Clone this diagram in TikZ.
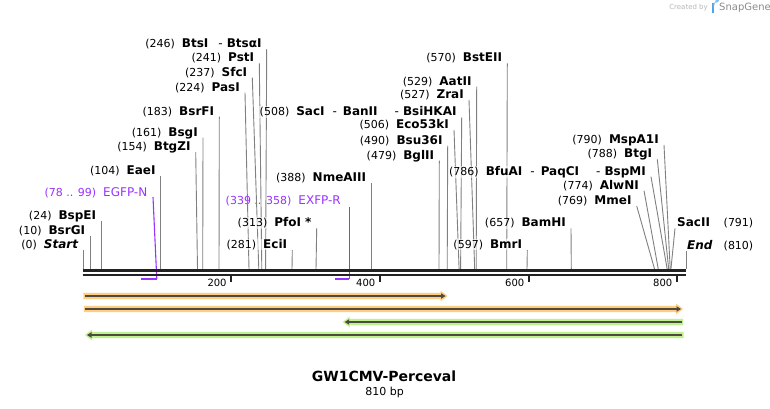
\documentclass[tikz,border=0pt]{standalone}
\usepackage{fontspec}
\setmainfont{DejaVu Sans}
\definecolor{cutgray}{RGB}{128,128,128}
\definecolor{primer}{RGB}{153,51,255}
\definecolor{orangef}{RGB}{255,205,128}
\definecolor{greenf}{RGB}{190,242,140}
\definecolor{featdark}{RGB}{78,74,66}
\definecolor{rulerc}{RGB}{34,34,34}
\definecolor{sgblue}{RGB}{80,165,230}
\newcommand\numf{\fontsize{11}{13}\selectfont}
\newcommand\namef{\fontsize{12}{14}\selectfont\bfseries}
\newcommand\esep{{\mdseries\hspace{10pt}-\hspace{4pt}}}
\newcommand\esepa{{\mdseries\hspace{8pt}-\hspace{6pt}}}
\newcommand\esepb{{\mdseries\hspace{17pt}-\hspace{4pt}}}
\tikzset{
  lab/.style={inner sep=0.5pt, fill=white, fill opacity=0.55, text opacity=1},
  cut/.style={draw=cutgray, line width=0.9pt},
  primline/.style={draw=primer, line width=1.1pt},
  primbar/.style={draw=primer, line width=1.8pt},
  rulerline/.style={draw=rulerc, line width=2.2pt},
  tickmark/.style={draw=rulerc, line width=1.8pt},
  ticklab/.style={font=\fontsize{10}{12}\selectfont, inner sep=0pt, anchor=east},
  featline/.style={draw=featdark, line width=2pt},
}
% #1 id, #2 top x, #3 top y, #4 bottom x, #5 position, #6 names
\newcommand\enz[6]{%
  \coordinate (#1-t) at (#2,#3);
  \coordinate (#1-b) at (#4,269.2);
  \draw[cut] (#1-t) -- (#1-b);
  \node[lab, anchor=base east] (#1) at ({#2-4.5},{#3-1.5}) {{\numf(#5)}\hspace{7pt}{\namef #6}};
}
% right-pointing feature: #1 y, #2 x start, #3 x tip, #4 colour
\newcommand\featR[4]{%
  \fill[#4] (#2,{#1-3.2}) -- ({#3-7},{#1-3.2}) -- ({#3-7},{#1-5.4}) -- (#3,#1) -- ({#3-7},{#1+5.4}) -- ({#3-7},{#1+3.2}) -- (#2,{#1+3.2}) -- cycle;
  \draw[featline] ({#2+1.5},#1) -- ({#3-5},#1);
  \fill[featdark] ({#3-6.5},{#1-2.8}) -- ({#3-2},#1) -- ({#3-6.5},{#1+2.8}) -- cycle;
}
% left-pointing feature: #1 y, #2 x tip, #3 x end, #4 colour
\newcommand\featL[4]{%
  \fill[#4] (#3,{#1-3.2}) -- ({#2+7},{#1-3.2}) -- ({#2+7},{#1-5.4}) -- (#2,#1) -- ({#2+7},{#1+5.4}) -- ({#2+7},{#1+3.2}) -- (#3,{#1+3.2}) -- cycle;
  \draw[featline] ({#3-1.5},#1) -- ({#2+5},#1);
  \fill[featdark] ({#2+6.5},{#1-2.8}) -- ({#2+2},#1) -- ({#2+6.5},{#1+2.8}) -- cycle;
}
\begin{document}
\begin{tikzpicture}[x=1pt,y=-1pt]
\useasboundingbox (0,0) rectangle (770,408);
\fill[white] (0,0) rectangle (770,408);

% watermark
\node[font=\fontsize{7}{8}\selectfont, text=black!28, anchor=east, inner sep=0pt] (wmcreated) at (708,7.5) {Created by};
\fill[sgblue] (711.5,2.5) rectangle (713.6,13);
\fill[sgblue!70] (713.6,2.5) -- (716.5,2.5) arc[start angle=90,end angle=-90,radius=2.6] -- (713.6,7.7) -- cycle;
\node[font=\fontsize{10}{12}\selectfont, text=black!45, anchor=west, inner sep=0pt] (wmsg) at (719,7.8) {SnapGene};

% primers
\coordinate (p1t) at (153,197);
\coordinate (p1m) at (156.8,279);
\coordinate (p1e) at (141,279);
\draw[primline] (p1t) -- (p1m);
\draw[primbar] (p1m) -- (p1e);
\node[anchor=base east, inner sep=0pt, text=primer] (egfpn) at (147.5,196.5) {{\numf(78 .. 99)}\hspace{7pt}{\fontsize{12}{14}\selectfont EGFP-N}};
\coordinate (p2t) at (349.3,206.7);
\coordinate (p2m) at (349.3,279);
\coordinate (p2e) at (335,279);
\draw[primline] (p2t) -- (p2m);
\draw[primbar] (p2m) -- (p2e);
\node[anchor=base east, inner sep=0pt, text=primer] (exfpr) at (341,204.5) {{\numf(339 .. 358)}\hspace{7pt}{\fontsize{12}{14}\selectfont EXFP-R}};

% enzymes
\enz{eStart}{83.3}{250}{83.3}{0}{\itshape Start}
\enz{eBsrGI}{90.3}{236}{90.3}{10}{BsrGI}
\enz{eBspEI}{101.3}{221}{101.3}{24}{BspEI}
\enz{eEaeI}{160.7}{176}{160.7}{104}{EaeI}
\enz{eBtgZI}{195.7}{152}{197.5}{154}{BtgZI}
\enz{eBsgI}{203}{137.7}{202.7}{161}{BsgI}
\enz{eBsrFI}{219.3}{116.7}{219}{183}{BsrFI}
\enz{ePasI}{245}{92.7}{249}{224}{PasI}
\enz{eSfcI}{252.3}{77.7}{258.8}{237}{SfcI}
\enz{ePstI}{259.3}{63.3}{261.8}{241}{PstI}
\enz{eBtsI}{266.7}{49}{265.6}{246}{BtsI\esep BtsαI}
\enz{eEciI}{292.3}{250}{292}{281}{EciI}
\enz{ePfoI}{316.7}{228.3}{316}{313}{PfoI *}
\enz{eNmeAIII}{371.3}{183.3}{371.3}{388}{NmeAIII}
\enz{eSacI}{461.7}{117.3}{460.6}{508}{SacI\esepa BanII\esepb BsiHKAI}
\enz{eEcoFIII}{454}{130}{459.1}{506}{Eco53kI}
\enz{eBsuI}{447.7}{145.7}{447.2}{490}{Bsu36I}
\enz{eBglII}{439.3}{160.7}{439}{479}{BglII}
\enz{eZraI}{469}{100}{474.7}{527}{ZraI}
\enz{eAatII}{476.7}{86.7}{476.2}{529}{AatII}
\enz{eBstEII}{507.3}{63.3}{506.7}{570}{BstEII}
\enz{eBfuAI}{651}{176.7}{667.2}{786}{BfuAI\esepa PaqCI\esepb BspMI}
\enz{eBmrI}{527.3}{250}{527}{597}{BmrI}
\enz{eBamHI}{571}{228.3}{571.3}{657}{BamHI}
\enz{eMmeI}{636.7}{206}{654.6}{769}{MmeI}
\enz{eAlwNI}{644}{190.7}{658.3}{774}{AlwNI}
\enz{eBtgI}{657.3}{159.3}{668.7}{788}{BtgI}
\enz{eMspI}{664}{145}{670.2}{790}{MspA1I}

% right-side labels
\coordinate (eSacII-t) at (675,228.3);
\coordinate (eSacII-b) at (670.9,269.2);
\draw[cut] (eSacII-t) -- (eSacII-b);
\node[lab, anchor=base west] (eSacII) at (676.5,226.8) {\namef SacII};
\node[lab, anchor=base west] (eSacIIn) at (723,226.8) {\numf(791)};
\coordinate (eEnd-t) at (686,250.7);
\coordinate (eEnd-b) at (686,269.2);
\draw[cut] (eEnd-t) -- (eEnd-b);
\node[lab, anchor=base west] (eEnd) at (686.5,249.2) {\namef\itshape End};
\node[lab, anchor=base west] (eEndn) at (723,249.2) {\numf(810)};

% ruler
\coordinate (rl1) at (82.7,270.4);
\coordinate (rr1) at (686.3,270.4);
\coordinate (rl2) at (82.7,275);
\coordinate (rr2) at (686.3,275);
\draw[rulerline] (rl1) -- (rr1);
\draw[rulerline] (rl2) -- (rr2);
\foreach \tx/\tl in {231.3/200, 380/400, 529/600, 677/800} {
  \draw[tickmark] (\tx,275) -- (\tx,282);
  \node[ticklab] (tick\tl) at (\tx-4.5,282.5) {\tl};
}

% features
\featR{296}{83.3}{447.5}{orangef}
\featR{309}{83.8}{683}{orangef}
\featL{322}{342.7}{683}{greenf}
\featL{335}{85}{683.5}{greenf}

% title
\node[font=\fontsize{14}{16}\selectfont\bfseries, anchor=base, inner sep=0pt] (title) at (384,381.5) {GW1CMV-Perceval};
\node[font=\fontsize{11}{13}\selectfont, anchor=base, inner sep=0pt] (bp) at (384.7,395.3) {810 bp};
\end{tikzpicture}
\end{document}
